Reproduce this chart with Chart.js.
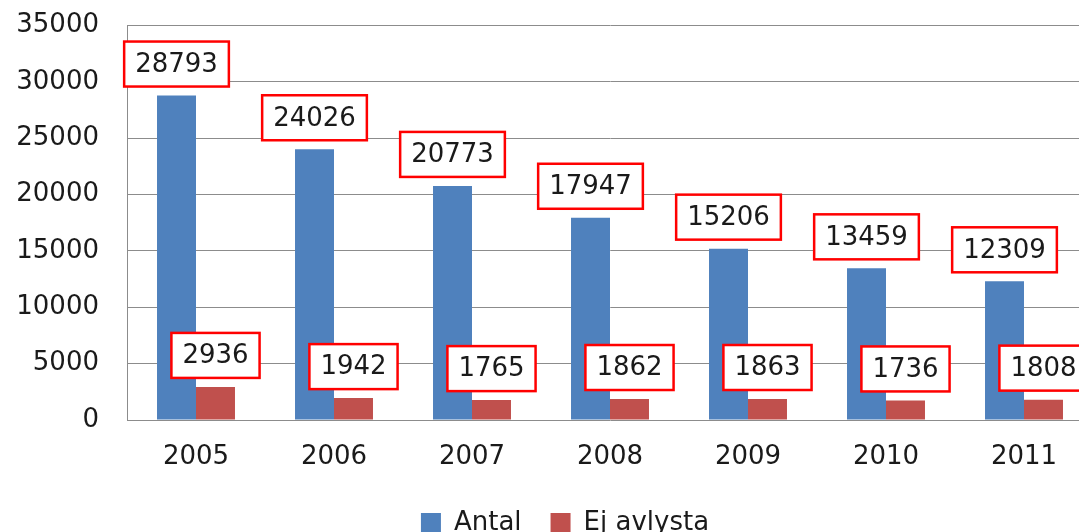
<!DOCTYPE html>
<html>
<head>
<meta charset="utf-8">
<script src="https://cdn.jsdelivr.net/npm/chart.js@4"></script>
<style>
  html, body { margin: 0; padding: 0; background: #fff; overflow: hidden; }
  #wrap { width: 1120px; height: 568px; margin-top: -18px; position: relative; }
</style>
</head>
<body>
<div id="wrap"><canvas id="chart"></canvas></div>
<script>
    // Chart data
    const years = ['2005', '2006', '2007', '2008', '2009', '2010', '2011'];
    const antal = [28793, 24026, 20773, 17947, 15206, 13459, 12309];
    const ejAvlysta = [2936, 1942, 1765, 1862, 1863, 1736, 1808];
    const yTicks = [0, 5000, 10000, 15000, 20000, 25000, 30000, 35000];

    const FONT = '"DejaVu Sans", Verdana, sans-serif';
    const TEXT = '#1a1a1a';
    const GRID = '#8c8c8c';

    // Red-boxed value labels above each bar
    const boxLabels = {
      id: 'boxLabels',
      afterDatasetsDraw(chart) {
        const ctx = chart.ctx;
        ctx.save();
        ctx.font = '26px ' + FONT;
        ctx.textAlign = 'center';
        ctx.textBaseline = 'middle';
        chart.data.datasets.forEach((ds, di) => {
          const meta = chart.getDatasetMeta(di);
          meta.data.forEach((bar, i) => {
            const txt = String(ds.data[i]);
            const w = ctx.measureText(txt).width + 22;
            const h = 45;
            const bottom = bar.y - 9;
            const left = bar.x - w / 2;
            ctx.fillStyle = '#fff';
            ctx.fillRect(left, bottom - h, w, h);
            ctx.strokeStyle = '#ff0000';
            ctx.lineWidth = 2.5;
            ctx.strokeRect(left, bottom - h, w, h);
            ctx.fillStyle = TEXT;
            ctx.fillText(txt, bar.x, bottom - h / 2 + 1);
          });
        });
        ctx.restore();
      }
    };

    function init() {
      const ctx = document.getElementById('chart');
      new Chart(ctx, {
        type: 'bar',
        data: {
          labels: years,
          datasets: [
            { label: 'Antal', data: antal, backgroundColor: '#4f81bd' },
            { label: 'Ej avlysta', data: ejAvlysta, backgroundColor: '#c0504d' }
          ]
        },
        options: {
          responsive: true,
          maintainAspectRatio: false,
          animation: false,
          datasets: {
            bar: { categoryPercentage: 0.565, barPercentage: 1.0 }
          },
          layout: { padding: { top: 8, left: 10, right: 0, bottom: 4 } },
          scales: {
            x: {
              grid: { display: false, drawTicks: false },
              border: { display: false },
              ticks: { color: TEXT, padding: 22, font: { family: FONT, size: 26 } },
              afterFit(scale) { scale.height = 61; }
            },
            y: {
              min: 0,
              max: 35000,
              afterBuildTicks(scale) { scale.ticks = yTicks.map(v => ({ value: v })); },
              grid: { color: GRID, drawTicks: false },
              border: { display: true, color: GRID },
              ticks: {
                color: TEXT,
                padding: 28,
                font: { family: FONT, size: 26 },
                callback: (v) => String(v)
              },
              afterFit(scale) { scale.width = 117; }
            },
            // empty spacer on the right so the plot runs past the window edge
            y2: {
              type: 'linear',
              position: 'right',
              grid: { display: false, drawTicks: false },
              border: { display: false },
              ticks: { display: false },
              afterFit(scale) { scale.width = 27; }
            }
          },
          plugins: {
            legend: {
              position: 'bottom',
              labels: {
                color: TEXT,
                boxWidth: 20,
                boxHeight: 20,
                padding: 29,
                font: { family: FONT, size: 26 }
              }
            },
            tooltip: { enabled: false }
          }
        },
        plugins: [boxLabels]
      });
    }

    init();
</script>
</body>
</html>
